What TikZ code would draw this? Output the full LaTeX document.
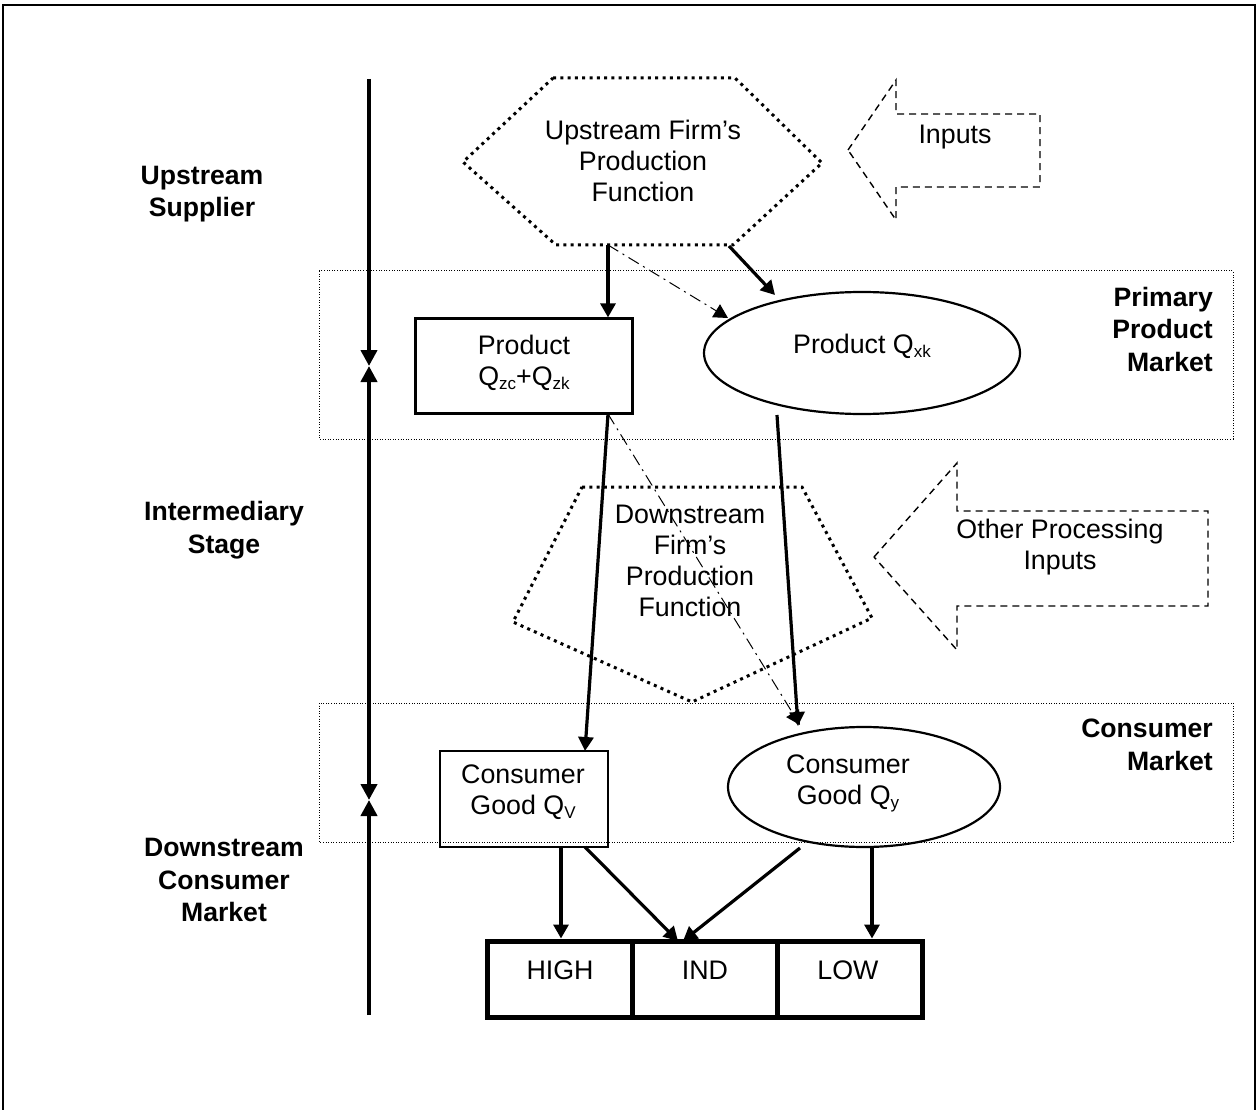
\documentclass[tikz,border=0pt]{standalone}
\usepackage{fontspec}
\setmainfont{Liberation Sans}
\usetikzlibrary{arrows.meta,shapes.geometric}
\newcommand{\lowsub}[1]{\raisebox{-4pt}{\fontsize{17}{17}\selectfont #1}}
\begin{document}
\begin{tikzpicture}[x=1pt,y=-1pt,
  txt/.style={font=\fontsize{26.8}{31}\selectfont, align=center, inner sep=0pt},
  lbl/.style={font=\bfseries\fontsize{26.6}{32.5}\selectfont, align=center, inner sep=0pt},
  flow/.style={line width=3.2pt, -{Triangle[length=14pt,width=15pt]}},
  dashdot/.style={line width=1pt, dash pattern=on 12pt off 5pt on 2pt off 5pt, -{Triangle[length=14pt,width=15pt]}},
  axis/.style={line width=4pt, -{Triangle[length=16pt,width=16pt]}},
  bigdots/.style={line width=3pt, dash pattern=on 3pt off 4.3pt},
  band/.style={line width=1pt, dash pattern=on 1pt off 1.6pt},
  outline/.style={draw, line width=2.2pt, inner sep=0pt},
  cell/.style={draw, line width=5pt, inner sep=0pt, minimum width=145pt, minimum height=76pt},
  arrowshape/.style={line width=1.4pt, dash pattern=on 7pt off 5pt},
]
\useasboundingbox (0,0) rectangle (1259,1110);
% outer frame
\draw[line width=2.5pt] (3,1112) -- (3,5) -- (1255,5) -- (1255,1112);

% market bands
\draw[band] (319,271) rectangle (1233,439);
\draw[band] (319,703) rectangle (1233,842);

% side labels
\node[lbl] (us) at (202,194) {Upstream\\Supplier};
\node[lbl] (is) at (224,530) {Intermediary\\Stage};
\node[lbl] (dcm) at (224,880) {Downstream\\Consumer\\Market};
\node[lbl, align=right, anchor=east] (ppm) at (1213,329) {Primary\\Product\\Market};
\node[lbl, align=right, anchor=east] (cmk) at (1213,745) {Consumer\\Market};

% vertical axis
\coordinate (ax0) at (369,79);
\coordinate (ax1) at (369,366);
\coordinate (ax2) at (369,800);
\coordinate (ax3) at (369,1015);
\draw[axis] (ax0) -- (ax1);
\draw[axis, {Triangle[length=16pt,width=16pt]}-{Triangle[length=16pt,width=16pt]}] (ax1) -- (ax2);
\draw[axis] (ax3) -- (ax2);

% upstream hexagon
\draw[bigdots] (553,78) -- (735,78) -- (822,163) -- (733,245) -- (556,245) -- (463,162) -- cycle;
\node[txt] (upf) at (643,161) {Upstream Firm’s\\Production\\Function};

% inputs arrow
\draw[arrowshape] (848,150) -- (896,80) -- (896,114) -- (1040,114) -- (1040,187) -- (896,187) -- (896,220) -- cycle;
\node[txt] (inp) at (955,137) {Inputs};

% primary products
\node[outline, minimum width=217pt, minimum height=95pt] (prod) at (524,366) {};
\node[txt] (prodt) at (524,363) {Product\\Q\lowsub{zc}+Q\lowsub{zk}};
\node[draw, ellipse, line width=2.2pt, minimum width=316pt, minimum height=122pt, inner sep=0pt] (pqxk) at (862,353) {};
\node[txt] (pqxkt) at (862,346) {Product Q\lowsub{xk}};

\coordinate (h1) at (608,245);
\coordinate (h2) at (729,246);
\coordinate (pqA) at (728,318);
\coordinate (pqB) at (775,295);
\draw[flow] (h1) -- (h1 |- prod.north);
\draw[dashdot] (h1) -- (pqA);
\draw[flow] (h2) -- (pqB);

% downstream pentagon
\draw[bigdots] (582,487) -- (802,487) -- (872,618) -- (692,702) -- (513,622) -- cycle;
\node[txt] (dfp) at (690,561) {Downstream\\Firm’s\\Production\\Function};

% other processing inputs arrow
\draw[arrowshape] (874,557) -- (957,463) -- (957,511) -- (1208,511) -- (1208,606) -- (957,606) -- (957,650) -- cycle;
\node[txt] (opi) at (1060,547) {Other Processing\\Inputs};

% consumer goods
\node[outline, minimum width=168pt, minimum height=96pt] (cgv) at (524,799) {};
\node[txt] (cgvt) at (523,792) {Consumer\\Good Q\lowsub{V}};
\node[draw, ellipse, line width=2.2pt, minimum width=272pt, minimum height=120pt, inner sep=0pt] (cgy) at (864,787) {};
\node[txt] (cgyt) at (848,783) {Consumer\\Good Q\lowsub{y}};

\coordinate (b1) at (608,414);
\coordinate (b2) at (777,415);
\coordinate (cgA) at (585,751);
\coordinate (cgB) at (800,725);
\coordinate (cgC) at (798,726);
\draw[flow] (b1) -- (cgA);
\draw[dashdot] (b1) -- (cgB);
\draw[flow] (b2) -- (cgC);

% segment boxes
\node[cell] (high) at (559.5,979) {};
\node[cell] (ind) at (704.5,979) {};
\node[cell] (low) at (850,979) {};
\node[txt] (hight) at (560,970) {HIGH};
\node[txt] (indt) at (705,970) {IND};
\node[txt] (lowt) at (848,970) {LOW};

\coordinate (c1) at (561,847);
\coordinate (c2) at (585,847);
\coordinate (c3) at (800,848);
\coordinate (c4) at (872,847);
\draw[flow] (c1) -- (c1 |- high.north);
\draw[flow] (c2) -- (678,941);
\draw[flow] (c3) -- (683,941);
\draw[flow] (c4) -- (c4 |- low.north);
\end{tikzpicture}
\end{document}
